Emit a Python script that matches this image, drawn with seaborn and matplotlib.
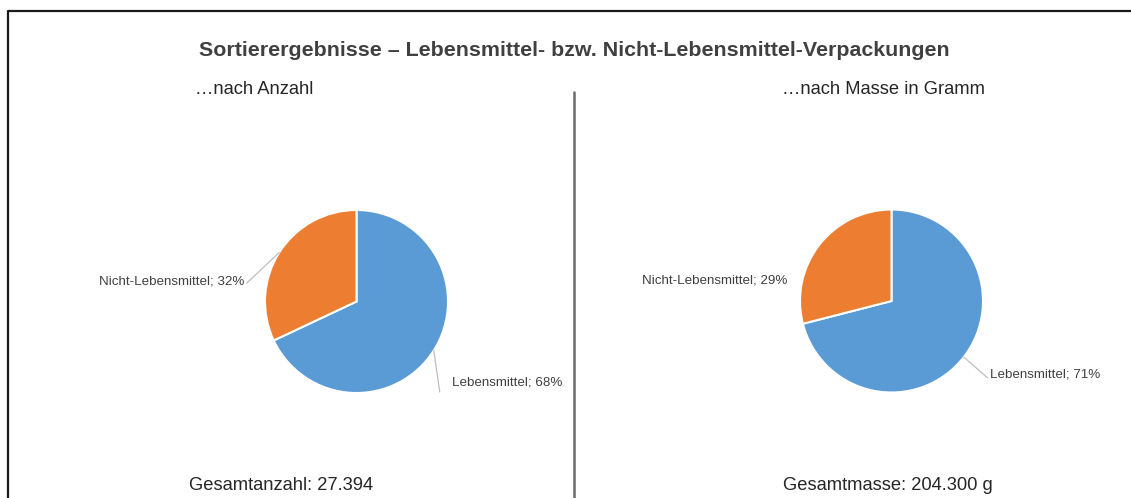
import numpy as np
import matplotlib
matplotlib.use("Agg")
import matplotlib.pyplot as plt
import seaborn as sns

sns.set_theme(style="white")
plt.rcParams["font.family"] = ["Liberation Sans", "DejaVu Sans"]

# Data
categories = ["Lebensmittel", "Nicht-Lebensmittel"]
share_count = [68, 32]   # % nach Anzahl
share_mass = [71, 29]    # % nach Masse
total_count_label = "Gesamtanzahl: 27.394"
total_mass_label = "Gesamtmasse: 204.300 g"

title = "Sortierergebnisse \u2013 Lebensmittel- bzw. Nicht-Lebensmittel-Verpackungen"
subtitle_left = "\u2026nach Anzahl"
subtitle_right = "\u2026nach Masse in Gramm"

colors = ["#5B9BD5", "#ED7D31"]
text_col = "#404040"
line_col = "#BFBFBF"

W, H = 1131, 498
fig = plt.figure(figsize=(W / 100, H / 100), dpi=100)
fig.patch.set_facecolor("white")

# background axis in pixel coordinates for frame, titles, divider
bg = fig.add_axes([0, 0, 1, 1])
bg.set_xlim(0, W)
bg.set_ylim(H, 0)
bg.axis("off")
bg.plot([8, 8, W], [H, 11, 11], color="#1a1a1a", lw=1.6, solid_capstyle="butt")
bg.plot([574, 574], [92, H], color="#6b6b6b", lw=1.8)
bg.text(574, 50, title, ha="center", va="center", fontsize=15.4, fontweight="bold", color=text_col)
bg.text(254, 89, subtitle_left, ha="center", va="center", fontsize=13.2, color="#262626")
bg.text(884, 89, subtitle_right, ha="center", va="center", fontsize=13.2, color="#262626")
bg.text(281, 485, total_count_label, ha="center", va="center", fontsize=13.2, color="#262626")
bg.text(888, 485, total_mass_label, ha="center", va="center", fontsize=13.2, color="#262626")

R = 91.5


def pie_axes(cx, cy):
    return fig.add_axes([(cx - R) / W, 1 - (cy + R) / H, 2 * R / W, 2 * R / H])


def draw_pie(ax, values, label_specs):
    wedges, _ = ax.pie(values, colors=colors, startangle=90, counterclock=False,
                       radius=1.0, wedgeprops=dict(edgecolor="white", linewidth=1.5))
    ax.set_xlim(-1, 1)
    ax.set_ylim(-1, 1)
    ax.set_aspect("equal")
    ax.axis("off")
    for w, name, v, spec in zip(wedges, categories, values, label_specs):
        mid = np.deg2rad((w.theta1 + w.theta2) / 2)
        edge = (np.cos(mid), np.sin(mid))
        tx, ty, ha, line_end = spec
        ax.text(tx, ty, f"{name}; {v}%", ha=ha, va="center", fontsize=9.6,
                color=text_col, clip_on=False)
        if line_end is not None:
            ax.plot([edge[0], line_end[0]], [edge[1], line_end[1]], color=line_col,
                    lw=0.9, clip_on=False)


ax1 = pie_axes(356.5, 301.5)
draw_pie(ax1, share_count, [
    (1.04, -0.89, "left", (0.91, -0.99)),
    (-1.22, 0.22, "right", (-1.20, 0.20)),
])

ax2 = pie_axes(891.5, 301.0)
draw_pie(ax2, share_mass, [
    (1.08, -0.80, "left", (1.05, -0.84)),
    (-1.14, 0.22, "right", None),
])

fig.savefig("out.png", dpi=100, facecolor="white")
